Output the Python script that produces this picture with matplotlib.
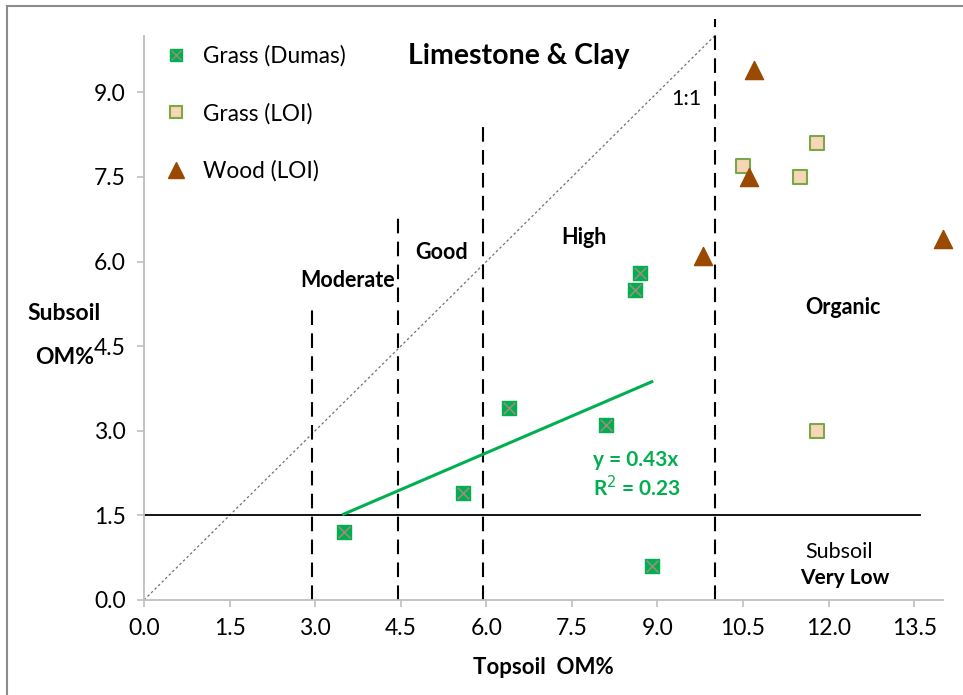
import numpy as np
import matplotlib.pyplot as plt
from matplotlib.patches import Rectangle
from matplotlib.lines import Line2D

plt.rcParams['font.family'] = ['Lato', 'DejaVu Sans']

# Data
dumas_x = [3.5, 5.6, 6.4, 8.1, 8.6, 8.7, 8.9]
dumas_y = [1.2, 1.9, 3.4, 3.1, 5.5, 5.8, 0.6]
grass_loi_x = [10.5, 11.8, 11.5, 11.8]
grass_loi_y = [7.7, 8.1, 7.5, 3.0]
wood_loi_x = [10.7, 10.6, 9.8, 14.0]
wood_loi_y = [9.4, 7.5, 6.1, 6.4]

class_bounds = [2.95, 4.45, 5.95, 10.0]
class_tops = [5.2, 6.9, 8.4, 10.3]
subsoil_low = 1.5

# regression through origin
dx = np.array(dumas_x)
dy = np.array(dumas_y)
slope = np.sum(dx * dy) / np.sum(dx * dx)
r2 = 1 - np.sum((dy - slope * dx) ** 2) / np.sum((dy - dy.mean()) ** 2)

fig = plt.figure(figsize=(9.63, 6.95), dpi=100)
ax = fig.add_axes([0.1495, 0.1367, 0.8295, 0.8115])

# outer frame
fig.patches.append(Rectangle((7 / 963, -0.05), 1.1, 1 - 6 / 695 + 0.05,
                             transform=fig.transFigure, fill=False,
                             edgecolor='#8c8c8c', linewidth=1.5))

green = '#00B050'
ax.plot([0, 10], [0, 10], linestyle=(0, (2, 2)), color='#707070', linewidth=0.9)
ax.plot([0, 13.6], [subsoil_low, subsoil_low], color='black', linewidth=1.3)
for xb, top in zip(class_bounds, class_tops):
    ax.plot([xb, xb], [0, top], color='black', linewidth=1.5,
            linestyle=(0, (7, 4)), clip_on=False)

xt = np.array([min(dumas_x), max(dumas_x)])
ax.plot(xt, slope * xt, color=green, linewidth=2.2)

ax.scatter(dumas_x, dumas_y, marker='s', s=110, color=green, zorder=3)
ax.scatter(dumas_x, dumas_y, marker='x', s=70, color='#A08A80', linewidths=1.2, zorder=4)
ax.scatter(grass_loi_x, grass_loi_y, marker='s', s=110, facecolor='#F8D5B5',
           edgecolor='#77A84A', linewidths=1.5, zorder=3)
ax.scatter(wood_loi_x, wood_loi_y, marker='^', s=170, color='#9A4A00', zorder=3,
           clip_on=False)

ticks = np.arange(0, 14.0, 1.5)
yticks = np.arange(0, 10.0, 1.5)
ax.set_xlim(0, 14.0)
ax.set_ylim(0, 10.0)
ax.set_xticks(ticks)
ax.set_yticks(yticks)
ax.set_xticklabels([f'{v:.1f}' for v in ticks])
ax.set_yticklabels([f'{v:.1f}' for v in yticks])
ax.tick_params(labelsize=16.5, color='#BFBFBF', length=5, width=1.2, pad=8)
for side in ['top', 'right']:
    ax.spines[side].set_visible(False)
for side in ['left', 'bottom']:
    ax.spines[side].set_color('#BFBFBF')
    ax.spines[side].set_linewidth(1.3)

fig.text(543 / 963, 1 - 667 / 695, 'Topsoil  OM%', fontsize=16, fontweight='bold',
         ha='center', va='center')
fig.text(64 / 963, 1 - 313 / 695, 'Subsoil', fontsize=16.5, fontweight='bold',
         ha='center', va='center')
fig.text(65 / 963, 1 - 357 / 695, 'OM%', fontsize=16.5, fontweight='bold',
         ha='center', va='center')

fs = 15.5
ax.text(6.57, 9.65, 'Limestone & Clay', fontsize=20.5, fontweight='bold', ha='center', va='center')
ax.text(9.5, 8.88, '1:1', fontsize=fs, ha='center', va='center')
ax.text(3.56, 5.66, 'Moderate', fontsize=fs, fontweight='bold', ha='center', va='center')
ax.text(5.21, 6.17, 'Good', fontsize=fs, fontweight='bold', ha='center', va='center')
ax.text(7.71, 6.42, 'High', fontsize=fs, fontweight='bold', ha='center', va='center')
ax.text(12.25, 5.18, 'Organic', fontsize=fs, fontweight='bold', ha='center', va='center')
ax.text(12.18, 0.85, 'Subsoil', fontsize=fs, ha='center', va='center')
ax.text(12.29, 0.39, 'Very Low', fontsize=15, fontweight='bold', ha='center', va='center')
ax.text(7.87, 2.48, f'y = {slope:.2f}x', fontsize=15, fontweight='bold', color=green,
        ha='left', va='center')
ax.text(7.87, 2.0, f'R$^2$ = {r2:.2f}', fontsize=15, fontweight='bold', color=green,
        ha='left', va='center')

h_dumas = (Line2D([], [], marker='s', markersize=9, color=green, linestyle='none'),
           Line2D([], [], marker='x', markersize=7, color='#A08A80', linestyle='none'))
h_loi = Line2D([], [], marker='s', markersize=9, markerfacecolor='#F8D5B5',
               markeredgecolor='#77A84A', markeredgewidth=1.5, linestyle='none')
h_wood = Line2D([], [], marker='^', markersize=11, color='#9A4A00', linestyle='none')
ax.legend([h_dumas, h_loi, h_wood], ['Grass (Dumas)', 'Grass (LOI)', 'Wood (LOI)'],
          loc='upper left', bbox_to_anchor=(0.0, 1.0), frameon=False, fontsize=16.3,
          labelspacing=1.6, handletextpad=0.2, borderaxespad=0.0)

fig.savefig('out.png', dpi=100)
